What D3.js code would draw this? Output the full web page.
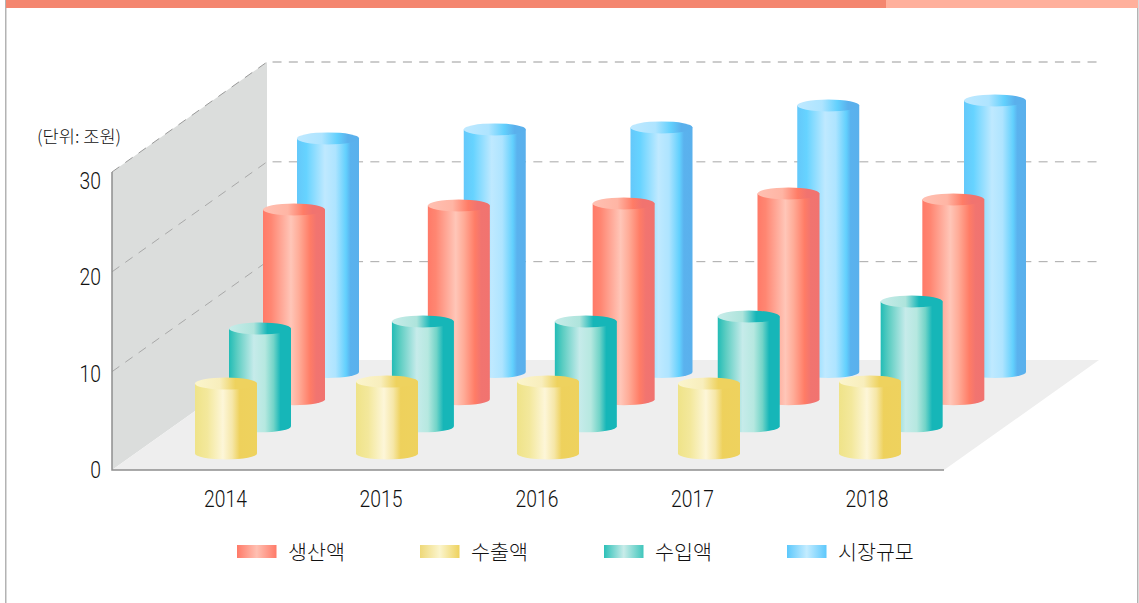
<!DOCTYPE html>
<html><head><meta charset="utf-8">
<script src="https://cdn.jsdelivr.net/npm/d3@7/dist/d3.min.js"></script>
<style>html,body{margin:0;padding:0;background:#fff;overflow:hidden}svg{display:block}</style>
</head><body><svg id="c" width="1139" height="603"></svg>
<script>
const years = ["2014","2015","2016","2017","2018"];
const seriesNames = ["생산액","수출액","수입액","시장규모"];
const production = [19.0,19.4,19.6,20.6,20.0];
const exportsV = [7.0,7.2,7.2,7.0,7.2];
const imports = [9.8,10.5,10.5,11.0,12.5];
const market = [23.4,24.3,24.5,26.7,27.2];
const yTicks = [0,10,20,30];

const bodyStops = {
  "생산액":[[0,"#ff7a68"],[.13,"#ff8672"],[.45,"#ffc6b8"],[.58,"#ffac98"],[.76,"#ff7c66"],[.86,"#f17470"],[1,"#f1736f"]],
  "수출액":[[0,"#efe388"],[.2,"#f3e89c"],[.45,"#fdf6d8"],[.6,"#f6e7a8"],[.72,"#eed15c"],[1,"#eed25e"]],
  "수입액":[[0,"#22bcb6"],[.13,"#5ccdc2"],[.4,"#c6ebea"],[.58,"#b6e8e0"],[.72,"#72d4c8"],[.83,"#16b6b8"],[1,"#16b6b8"]],
  "시장규모":[[0,"#64c8fa"],[.15,"#66d3ff"],[.45,"#bfe9ff"],[.62,"#aee4ff"],[.79,"#62d0fd"],[.86,"#5ab2ee"],[1,"#5ab0ec"]]
};
const capStops = {
  "생산액":[[0,"#ffc0b2"],[.4,"#ffb5a4"],[.65,"#ff7c66"],[.8,"#f1736f"],[1,"#f1736f"]],
  "수출액":[[0,"#fbf5cd"],[.4,"#f8eebc"],[.65,"#eed25e"],[1,"#eed25e"]],
  "수입액":[[0,"#c8ece9"],[.4,"#aee4dc"],[.62,"#16b6b8"],[1,"#16b6b8"]],
  "시장규모":[[0,"#bfe9ff"],[.4,"#aee4ff"],[.65,"#62d0fd"],[.82,"#5ab0ec"],[1,"#5ab0ec"]]
};
const values = {"생산액":production,"수출액":exportsV,"수입액":imports,"시장규모":market};
const paintOrder = ["시장규모","생산액","수입액","수출액"];
const depthOrder = ["수출액","수입액","생산액","시장규모"];

const svg = d3.select("#c");
const defs = svg.append("defs");
function grad(id, stops){
  const g = defs.append("linearGradient").attr("id",id).attr("x1",0).attr("x2",1).attr("y1",0).attr("y2",0);
  stops.forEach(s=>g.append("stop").attr("offset",s[0]).attr("stop-color",s[1]));
}
seriesNames.forEach((s,i)=>{grad("b"+i,bodyStops[s]);grad("t"+i,capStops[s]);});
const legendStops = [
  [[0,"#ff7a68"],[.5,"#ffc0b2"],[1,"#ff7a68"]],
  [[0,"#eed878"],[.5,"#fbf5cd"],[1,"#eed25e"]],
  [[0,"#2cc0b8"],[.5,"#c8ece9"],[1,"#40c6bc"]],
  [[0,"#5cc8fc"],[.5,"#c4ecff"],[1,"#5cc8fc"]]
];
legendStops.forEach((s,i)=>grad("l"+i,s));

// frame
svg.append("rect").attr("x",5).attr("y",0).attr("width",1.5).attr("height",603).attr("fill","#b3b3b3");
svg.append("rect").attr("x",1137).attr("y",0).attr("width",1.5).attr("height",603).attr("fill","#b3b3b3");
svg.append("rect").attr("x",6).attr("y",0).attr("width",880).attr("height",8).attr("fill","#f4866f");
svg.append("rect").attr("x",886).attr("y",0).attr("width",252).attr("height",8).attr("fill","#ffb09c");

// geometry
const y = d3.scaleLinear().domain([0,30]).range([471.5,172]);
const floorY = 470;
const depthDX = 155, depthDY = -110, frontRight = 944, frontLeft = 112;
svg.append("path").attr("fill","#dbdddc")
  .attr("d",d3.line()([[frontLeft,floorY],[frontLeft,y(30)],[frontLeft+depthDX,y(30)+depthDY],[frontLeft+depthDX,floorY+depthDY]]));
svg.append("path").attr("fill","#eeeeee")
  .attr("d",d3.line()([[frontLeft,floorY],[frontRight,floorY],[frontRight+depthDX,floorY+depthDY],[frontLeft+depthDX,floorY+depthDY]]));

const grid = svg.append("g").attr("fill","none").attr("stroke-width",1);
yTicks.filter(t=>t>0).forEach(t=>{
  grid.append("path").attr("stroke",t===30?"#999":"#a8a8a8").attr("stroke-dasharray","9 7.3")
    .attr("d",d3.line()([[frontLeft,y(t)],[frontLeft+depthDX,y(t)+depthDY],[frontRight+depthDX,y(t)+depthDY]]));
});
svg.append("path").attr("fill","none").attr("stroke","#8e8e8e").attr("stroke-width",1.5)
  .attr("d",d3.line()([[frontLeft,y(30)],[frontLeft,floorY],[frontRight,floorY]]));

// cylinders
const baseY = d3.scalePoint().domain(depthOrder).range([453.5,372]);
const xStart = d3.scalePoint().domain(depthOrder).range([226,328]);
const xEnd = d3.scalePoint().domain(depthOrder).range([870,995]);
const rx = 31, ry = 6;
const perUnit = y(0)-y(1);
paintOrder.forEach(s=>{
  const idx = seriesNames.indexOf(s);
  const x = d3.scalePoint().domain(years).range([xStart(s),xEnd(s)]);
  const g = svg.append("g");
  years.forEach((yr,i)=>{
    const cx = x(yr), by = baseY(s), ty = by - values[s][i]*perUnit;
    g.append("path").attr("fill",`url(#b${idx})`)
      .attr("d",`M${cx-rx},${ty}L${cx-rx},${by}A${rx},${ry} 0 0 0 ${cx+rx},${by}L${cx+rx},${ty}Z`);
    g.append("ellipse").attr("cx",cx).attr("cy",ty).attr("rx",rx).attr("ry",ry).attr("fill",`url(#t${idx})`);
  });
});

// texts
const numFont = "Roboto, sans-serif";
const krFont = "'Noto Sans CJK KR', sans-serif";
const ink = "#111";
const yLab = d3.scaleLinear().domain([0,30]).range([470,180.5]);
yTicks.forEach(t=>{
  svg.append("text").attr("transform",`translate(101,${yLab(t)+8}) scale(.84,1)`)
    .attr("text-anchor","end").attr("font-family",numFont).attr("font-weight",300).attr("font-size",23).attr("fill",ink).text(t);
});
const tickX = d3.scaleOrdinal().domain(years).range([225.5,381,537,692.5,867]);
years.forEach(t=>{
  svg.append("text").attr("transform",`translate(${tickX(t)},507) scale(.84,1)`)
    .attr("text-anchor","middle").attr("font-family",numFont).attr("font-weight",300).attr("font-size",23).attr("fill",ink).text(t);
});
svg.append("text").attr("x",37).attr("y",143).attr("font-family",krFont).attr("font-weight",300).attr("font-size",17.6).attr("fill",ink).text("(단위: 조원)");

const legX = d3.scaleOrdinal().domain(seriesNames).range([237,420,604,787]);
seriesNames.forEach((s,i)=>{
  svg.append("rect").attr("x",legX(s)).attr("y",545).attr("width",39.5).attr("height",13).attr("fill",`url(#l${i})`);
  svg.append("text").attr("x",legX(s)+51).attr("y",559.5).attr("font-family",krFont).attr("font-weight",300).attr("font-size",20.6).attr("fill",ink).text(s);
});
</script></body></html>
